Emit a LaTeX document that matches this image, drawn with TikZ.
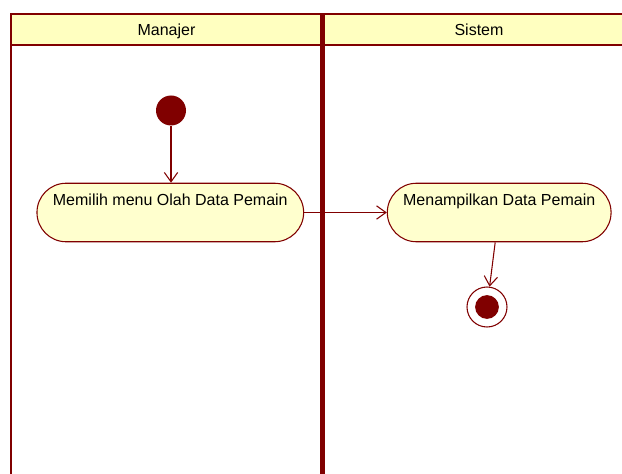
\documentclass[tikz,border=0pt]{standalone}
\usepackage{fontspec}
\setmainfont{Liberation Sans}
\definecolor{umlred}{RGB}{128, 0, 0}
\definecolor{umlhead}{RGB}{255, 255, 192}
\definecolor{umlact}{RGB}{255, 255, 206}
\usetikzlibrary{arrows.meta}

\begin{document}
\begin{tikzpicture}[x=0.75pt, y=-0.75pt,
        lanehead/.style={font=\fontsize{12}{14}\selectfont, inner sep=0pt, anchor=base},
        action/.style={draw=umlred, fill=umlact, rounded corners=21.9pt, inner sep=0pt, minimum height=43.9pt, text height=17pt, text depth=26.8pt, font=\fontsize{12}{14}\selectfont, line width=0.8pt},
        startdot/.style={circle, fill=umlred, inner sep=0pt, minimum size=22.5pt},
        stopring/.style={circle, draw=umlred, fill=white, inner sep=0pt, minimum size=30pt, line width=0.8pt},
        flow/.style={draw=umlred, line width=0.8pt, -{Straight Barb[length=7pt, width=10pt]}},
      ]
      \useasboundingbox (0,0) rectangle (622,474);
      \clip (0,0) rectangle (622,474);
      % swimlanes
      \fill[umlhead] (11,14) rectangle (640,45);
      \draw[umlred, line width=1.9pt] (640,14) -- (11,14) -- (11,480);
      \draw[umlred, line width=1.9pt] (11,45) -- (640,45);
      \draw[umlred, line width=4.3pt] (322.5,14) -- (322.5,480);
      \node[lanehead] (manajer) at (166.5,35.5) {Manajer};
      \node[lanehead] (sistem) at (479,35.5) {Sistem};
      % activities
      \node[startdot] (start) at (171,110.5) {};
      \node[action, minimum width=200pt] (pilih) at (170.3,212.5) {Memilih menu Olah Data Pemain};
      \node[action, minimum width=167.8pt] (tampil) at (499.2,212.5) {Menampilkan Data Pemain};
      \node[stopring] (stop) at (487,307) {};
      \node[startdot, minimum size=17.8pt] (stopdot) at (stop) {};
      % flows
      \draw[flow] (start) -- (start |- pilih.north);
      \draw[flow] (pilih.east) -- (tampil.west);
      \draw[flow] ([xshift=-3pt]tampil.south) -- (stop);
      \end{tikzpicture}
\end{document}
